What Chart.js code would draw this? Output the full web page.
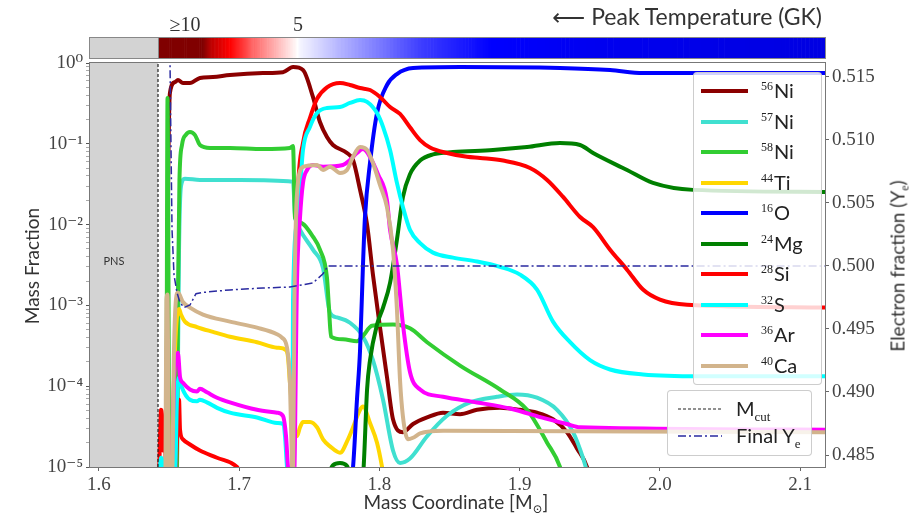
<!DOCTYPE html>
<html><head><meta charset="utf-8">
<script src="https://cdn.jsdelivr.net/npm/chart.js@4.4.0/dist/chart.umd.min.js"></script>
<style>
html,body{margin:0;padding:0;background:#fff;}
#wrap{position:relative;width:922px;height:517px;overflow:hidden;background:#fff;}
canvas{position:absolute;left:0;top:0;}
.tx{position:absolute;white-space:nowrap;line-height:1;color:#333;font-family:Lato,"DejaVu Sans",sans-serif;}
.serif{font-family:"Liberation Serif","DejaVu Serif",serif;}
.leg{position:absolute;box-sizing:border-box;background:rgba(255,255,255,0.82);border:1px solid rgba(200,200,200,0.9);border-radius:4px;}
.row{position:absolute;left:0;width:100%;height:0;}
.sw{position:absolute;height:4px;margin-top:-2px;}
.lab{position:absolute;font-family:Lato,"DejaVu Sans",sans-serif;font-size:20px;line-height:1;color:#222;margin-top:-11px;white-space:nowrap;}
.sup{font-family:"Liberation Serif","DejaVu Serif",serif;font-size:12px;position:relative;top:-8px;margin-right:1px;}
.sub{font-family:"Liberation Serif","DejaVu Serif",serif;font-size:13px;position:relative;top:5px;}
</style></head>
<body>
<div id="wrap">
<canvas id="c" width="922" height="517"></canvas>
<div class="tx" id="ttl" style="right:100px;top:5px;font-size:23px;">⟵ Peak Temperature (GK)</div>
<div class="tx" style="left:31px;top:266px;font-size:19px;transform:translate(-50%,-50%) rotate(-90deg);">Mass Fraction</div>
<div class="tx" style="left:897px;top:266px;font-size:19px;transform:translate(-50%,-50%) rotate(-90deg);">Electron fraction (Y<span class="sub" style="font-size:12px;top:4px">e</span>)</div>
<div class="tx" style="left:456px;top:501px;font-size:19px;transform:translate(-50%,-50%);">Mass Coordinate [M<span class="sub" style="font-size:12px;top:4px">⊙</span>]</div>
<div class="tx" style="left:114px;top:260px;font-size:11px;color:#333;transform:translate(-50%,-50%);">PNS</div>
<div class="leg" id="leg1" style="left:693px;top:72px;width:129px;height:313px;"></div>
<div class="leg" id="leg2" style="left:667px;top:390px;width:145px;height:66px;"></div>
</div>
<script>
// ---------- axes ----------
const xMin = 1.5936, xMax = 2.1178;
const yMin = 1e-5, yMax = 1;
const yeMin = 0.48405, yeMax = 0.5161;
const massCut = 1.6421;
const xTicks = [1.6, 1.7, 1.8, 1.9, 2.0, 2.1];
const yeTicks = [0.485, 0.490, 0.495, 0.500, 0.505, 0.510, 0.515];
const yDecades = [-5, -4, -3, -2, -1, 0];

// ---------- colour bar (peak temperature, GK) ----------
const cbarMass = [1.6421, 1.6742, 1.6800, 1.6934, 1.7100, 1.7398, 1.7434, 1.7700, 1.8300, 1.8800, 1.9500, 2.0500, 2.1178];
const cbarTemp = [10.5, 10.0, 8.8, 7.5, 6.5, 5.1, 4.9, 4.3, 3.1, 2.5, 2.3, 2.15, 2.1];
const cbarTickMass = [1.6613, 1.7419];
const cbarTickLabels = ['≥10', '5'];

// ---------- species mass fractions [mass, X] ----------
const ni56 = [[1.6478,7e-6],[1.6492,0.0202],[1.6506,0.425],[1.6542,0.58],[1.6563,0.616],[1.6599,0.565],[1.6649,0.565],[1.6720,0.652],[1.6813,0.67],[1.6934,0.711],[1.7170,0.752],[1.7312,0.77],[1.7384,0.89],[1.7455,0.819],[1.7526,0.38],[1.7576,0.186],[1.7626,0.121],[1.7669,0.0966],[1.7769,0.0769],[1.7812,0.063],[1.7862,0.0269],[1.7912,0.01],[1.7954,0.0024],[1.8004,0.00054],[1.8054,1.3e-4],[1.8097,3.9e-5],[1.8168,2.7e-5],[1.8240,3.4e-5],[1.8340,4.1e-5],[1.8454,4.7e-5],[1.8575,4.5e-5],[1.8696,5.1e-5],[1.8860,5.4e-5],[1.9003,5.1e-5],[1.9124,4.7e-5],[1.9238,3.9e-5],[1.9338,2.7e-5],[1.9409,1.7e-5],[1.9481,1e-5],[1.9502,7e-6]];
const ni57 = [[1.6556,7e-6],[1.6571,0.0049],[1.6585,0.030],[1.6613,0.037],[1.6720,0.0357],[1.7006,0.0357],[1.7384,0.034],[1.7398,0.0132],[1.7434,0.0086],[1.7526,0.0049],[1.7598,0.0029],[1.7648,8.1e-4],[1.7698,7.1e-4],[1.7790,6.1e-4],[1.7883,4.1e-4],[1.7954,2.1e-4],[1.8026,6.8e-5],[1.8097,1.6e-5],[1.8147,1.12e-5],[1.8218,1.27e-5],[1.8340,2.4e-5],[1.8482,4.3e-5],[1.8646,6.3e-5],[1.8839,7.4e-5],[1.8981,7.9e-5],[1.9124,7.2e-5],[1.9267,5.1e-5],[1.9381,2.7e-5],[1.9452,1.3e-5],[1.9488,8e-6]];
const ni58 = [[1.6481,7e-6],[1.6489,0.369],[1.6503,7e-6],[1.6556,7e-6],[1.6563,0.00118],[1.6574,0.0357],[1.6592,0.0966],[1.6621,0.13],[1.6649,0.14],[1.6685,0.128],[1.6720,0.0966],[1.6792,0.0887],[1.6934,0.0887],[1.7170,0.086],[1.7362,0.0887],[1.7384,0.094],[1.7398,0.0121],[1.7434,0.0106],[1.7526,0.0071],[1.7576,0.0049],[1.7626,0.0022],[1.7641,8.9e-4],[1.7655,4.1e-4],[1.7740,3.8e-4],[1.7840,3.6e-4],[1.7883,4.2e-4],[1.7947,5.6e-4],[1.8097,5.8e-4],[1.8218,5.2e-4],[1.8340,3.5e-4],[1.8575,1.8e-4],[1.8860,9.1e-5],[1.9053,5.1e-5],[1.9196,2.0e-5],[1.9288,1e-5],[1.9310,7e-6]];
const ti44 = [[1.6514,7e-6],[1.6528,5.1e-5],[1.6542,2.8e-4],[1.6556,7.1e-4],[1.6571,9e-4],[1.6585,7.7e-4],[1.6613,6.3e-4],[1.6699,5.4e-4],[1.6813,4.7e-4],[1.6934,4.1e-4],[1.7127,3.5e-4],[1.7270,3.0e-4],[1.7334,2.8e-4],[1.7348,2.3e-4],[1.7362,1.1e-4],[1.7384,4.2e-5],[1.7412,2.4e-5],[1.7434,3.1e-5],[1.7455,3.6e-5],[1.7505,3.6e-5],[1.7555,3.1e-5],[1.7598,2.2e-5],[1.7648,1.8e-5],[1.7719,1.5e-5],[1.7776,2.2e-5],[1.7812,3.1e-5],[1.7862,5.1e-5],[1.7883,5.6e-5],[1.7933,3.5e-5],[1.7983,2.0e-5],[1.8019,1e-5],[1.8033,7e-6]];
const o16 = [[1.7797,7e-6],[1.7812,1e-5],[1.7840,6.8e-5],[1.7862,2.8e-4],[1.7883,3.2e-3],[1.7897,0.0124],[1.7933,0.058],[1.7983,0.24],[1.8054,0.534],[1.8125,0.73],[1.8240,0.867],[1.8575,0.89],[1.9288,0.867],[1.9645,0.819],[1.9880,0.752],[2.0286,0.752],[2.1178,0.752]];
const mg24 = [[1.7591,5e-6],[1.7669,1.05e-5],[1.7719,1.12e-5],[1.7769,1.03e-5],[1.7819,5e-6],[1.7876,5e-6],[1.7890,1.2e-5],[1.7912,9.1e-5],[1.7933,2.1e-4],[1.7983,5.8e-4],[1.8026,9.4e-4],[1.8076,1.9e-3],[1.8125,6.5e-3],[1.8168,0.022],[1.8218,0.042],[1.8290,0.062],[1.8382,0.074],[1.8525,0.079],[1.8810,0.0837],[1.9053,0.091],[1.9288,0.102],[1.9431,0.0966],[1.9524,0.0769],[1.9766,0.0474],[1.9951,0.0328],[2.0237,0.0269],[2.1178,0.0254]];
const si28 = [[1.6428,7e-6],[1.6435,2.2e-5],[1.6442,5.1e-5],[1.6449,4.5e-5],[1.6456,1.6e-5],[1.6464,3.9e-5],[1.6471,2.2e-5],[1.6478,9e-6],[1.6485,5e-6],[1.6542,5e-6],[1.6556,2.2e-5],[1.6571,6.8e-5],[1.6578,2.9e-5],[1.6599,2.2e-5],[1.6649,1.9e-5],[1.6720,1.6e-5],[1.6842,1.3e-5],[1.6984,1e-5],[1.7041,7e-6],[1.7377,7e-6],[1.7398,0.00118],[1.7419,0.0269],[1.7455,0.102],[1.7505,0.21],[1.7555,0.36],[1.7626,0.5],[1.7719,0.565],[1.7790,0.534],[1.7862,0.49],[1.7933,0.463],[1.8004,0.38],[1.8076,0.285],[1.8147,0.234],[1.8218,0.16],[1.8290,0.111],[1.8361,0.09],[1.8482,0.077],[1.8625,0.069],[1.8718,0.0667],[1.8882,0.062],[1.9074,0.0502],[1.9196,0.0357],[1.9310,0.022],[1.9431,0.0124],[1.9524,0.0093],[1.9645,0.0049],[1.9766,0.00277],[1.9880,0.00157],[2.0001,0.00118],[2.0194,0.00102],[2.1178,0.00094]];
const s32 = [[1.6428,7e-6],[1.6442,1.3e-5],[1.6456,1.15e-5],[1.6471,7e-6],[1.6542,7e-6],[1.6556,6.8e-5],[1.6571,1.28e-4],[1.6592,9.6e-5],[1.6649,6.8e-5],[1.6699,6.5e-5],[1.6720,6.8e-5],[1.6770,6.3e-5],[1.6842,5.4e-5],[1.6934,4.7e-5],[1.7127,4.1e-5],[1.7270,3.5e-5],[1.7312,3.4e-5],[1.7327,2.4e-5],[1.7341,1e-5],[1.7355,7e-6],[1.7377,7e-6],[1.7384,0.00118],[1.7419,0.0124],[1.7455,0.0837],[1.7505,0.162],[1.7555,0.24],[1.7626,0.277],[1.7719,0.285],[1.7790,0.32],[1.7862,0.348],[1.7912,0.33],[1.7983,0.24],[1.8026,0.162],[1.8076,0.0837],[1.8125,0.0328],[1.8168,0.0164],[1.8218,0.0086],[1.8290,0.0059],[1.8382,0.0045],[1.8525,0.0039],[1.8696,0.0035],[1.8860,0.003],[1.9003,0.0024],[1.9124,0.00157],[1.9238,0.00063],[1.9360,0.00035],[1.9502,0.00021],[1.9645,0.000161],[1.9880,0.00014],[2.0286,0.000133],[2.1178,0.000133]];
const ar36 = [[1.6514,7e-6],[1.6521,1.2e-5],[1.6535,1.2e-4],[1.6549,2.1e-4],[1.6563,2.6e-4],[1.6578,1.3e-4],[1.6599,1.1e-4],[1.6649,9.1e-5],[1.6699,8.6e-5],[1.6720,9.3e-5],[1.6770,8.4e-5],[1.6842,7.2e-5],[1.6934,6.3e-5],[1.7127,5.1e-5],[1.7270,4.7e-5],[1.7312,4.3e-5],[1.7334,2.4e-5],[1.7348,1e-5],[1.7362,7e-6],[1.7391,7e-6],[1.7412,0.0019],[1.7434,0.0124],[1.7455,0.0328],[1.7484,0.0474],[1.7526,0.0547],[1.7598,0.052],[1.7740,0.0547],[1.7790,0.063],[1.7840,0.0769],[1.7883,0.086],[1.7933,0.0687],[1.7990,0.042],[1.8054,0.02],[1.8076,0.0086],[1.8125,0.0032],[1.8168,5.8e-4],[1.8218,1.5e-4],[1.8290,9.1e-5],[1.8454,7.4e-5],[1.8696,6.3e-5],[1.8931,5.3e-5],[1.9181,4e-5],[1.9338,3.4e-5],[1.9431,3.1e-5],[2.1178,2.9e-5]];
const ca40 = [[1.6474,7e-6],[1.6481,0.00118],[1.6489,0.00136],[1.6499,7e-6],[1.6521,7e-6],[1.6535,2.8e-4],[1.6549,1.18e-3],[1.6563,1.44e-3],[1.6599,1.1e-3],[1.6649,9.4e-4],[1.6742,7.7e-4],[1.6934,6.3e-4],[1.7127,5.3e-4],[1.7270,4.4e-4],[1.7305,4.0e-4],[1.7341,3.0e-4],[1.7362,1.1e-4],[1.7377,1e-5],[1.7384,7e-6],[1.7394,0.00118],[1.7405,0.0124],[1.7419,0.0328],[1.7455,0.0517],[1.7555,0.0547],[1.7598,0.0474],[1.7648,0.052],[1.7719,0.0436],[1.7769,0.0474],[1.7812,0.069],[1.7862,0.091],[1.7912,0.0837],[1.7954,0.0579],[1.8004,0.031],[1.8054,0.0164],[1.8097,0.0049],[1.8125,8.9e-4],[1.8147,1.2e-4],[1.8168,4.2e-5],[1.8204,2.2e-5],[1.8240,2.3e-5],[1.8290,2.6e-5],[1.8454,2.8e-5],[2.1178,2.7e-5]];

// ---------- final electron fraction [mass, Ye] ----------
const yeFinal = [[1.6506,0.5168],[1.6514,0.5092],[1.6521,0.5029],[1.6535,0.4993],[1.6556,0.4979],[1.6578,0.4971],[1.6606,0.4967],[1.6649,0.4969],[1.6692,0.4978],[1.6742,0.4979],[1.6934,0.4981],[1.7170,0.49825],[1.7362,0.49833],[1.7526,0.49865],[1.7598,0.49937],[1.7633,0.5000],[2.1178,0.5000]];

const speciesData = [ni56, ni57, ni58, ti44, o16, mg24, si28, s32, ar36, ca40];
const speciesA = ['56','57','58','44','16','24','28','32','36','40'];
const speciesSym = ['Ni','Ni','Ni','Ti','O','Mg','Si','S','Ar','Ca'];
const speciesColor = ['#8b0000','#40e0d0','#32cd32','#ffd700','#0000ff','#008000','#ff0000','#00ffff','#ff00ff','#d2b48c'];
const yeColor = '#2a2aa0';

// ---------- build datasets ----------
const toPts = arr => arr.map(p => ({x: p[0], y: p[1]}));
const datasets = [];
datasets.push({label:'PNS', data:[{x:xMin,y:yMax},{x:massCut,y:yMax}], yAxisID:'y', borderWidth:0, pointRadius:0, fill:'start', backgroundColor:'#d3d3d3', tension:0, order:1000, clip:0});
speciesData.forEach((arr, i) => {
  datasets.push({label: speciesA[i] + speciesSym[i], data: toPts(arr), yAxisID:'y', borderColor: speciesColor[i], borderWidth:4, pointRadius:0, fill:false, cubicInterpolationMode:'monotone', borderCapStyle:'round', borderJoinStyle:'round', order: 100 - i, clip:0});
});
datasets.push({label:'Mcut', data:[{x:massCut,y:yMin},{x:massCut,y:yMax}], yAxisID:'y', borderColor:'#222', borderWidth:1.2, borderDash:[3,2], pointRadius:0, tension:0, order:2, clip:0});
datasets.push({label:'Final Ye', data: toPts(yeFinal), yAxisID:'y2', borderColor: yeColor, borderWidth:1.5, borderDash:[8,3,2,3], pointRadius:0, tension:0, order:1, clip:0});

// ---------- helpers ----------
const supMap = {'0':'⁰','1':'¹','2':'²','3':'³','4':'⁴','5':'⁵','6':'⁶','7':'⁷','8':'⁸','9':'⁹','-':'⁻'};
function decadeLabel(e){ return '10' + String(e).split('').map(c => supMap[c]).join(''); }
function isMajor(v){ const e = Math.log10(v); return Math.abs(e - Math.round(e)) < 1e-6; }
function seismic(t){
  t = Math.max(0, Math.min(1, t));
  const st = [[0,[0,0,77]],[0.25,[0,0,255]],[0.5,[255,255,255]],[0.75,[255,0,0]],[1,[128,0,0]]];
  for (let i = 0; i < st.length - 1; i++) {
    const [a, ca] = st[i], [b, cb] = st[i+1];
    if (t <= b) { const f = (t - a) / (b - a); return 'rgb(' + ca.map((c, k) => Math.round(c + (cb[k] - c) * f)).join(',') + ')'; }
  }
  return 'rgb(128,0,0)';
}

const cbarPlugin = {
  id: 'cbar',
  afterDraw(chart) {
    const {ctx, scales:{x}} = chart;
    const top = 37, h = 22;
    const L = x.getPixelForValue(xMin), R = x.getPixelForValue(xMax), M = x.getPixelForValue(massCut);
    ctx.save();
    ctx.fillStyle = '#d3d3d3';
    ctx.fillRect(L, top, M - L, h);
    for (let i = 0; i < cbarMass.length - 1; i++) {
      const steps = 24;
      for (let k = 0; k < steps; k++) {
        const m0 = cbarMass[i] + (cbarMass[i+1] - cbarMass[i]) * k / steps;
        const m1 = cbarMass[i] + (cbarMass[i+1] - cbarMass[i]) * (k + 1) / steps;
        const T = cbarTemp[i] + (cbarTemp[i+1] - cbarTemp[i]) * (k + 0.5) / steps;
        ctx.fillStyle = seismic(T / 10);
        const p0 = x.getPixelForValue(m0), p1 = x.getPixelForValue(m1);
        ctx.fillRect(p0, top, p1 - p0 + 0.6, h);
      }
    }
    ctx.strokeStyle = '#888';
    ctx.lineWidth = 1;
    ctx.strokeRect(L - 0.5, top + 0.5, R - L + 1, h - 1);
    ctx.beginPath(); ctx.moveTo(M + 0.5, top); ctx.lineTo(M + 0.5, top + h); ctx.stroke();
    ctx.restore();
  }
};
const framePlugin = {
  id: 'frame',
  afterDatasetsDraw(chart) {
    const {ctx, chartArea:a} = chart;
    ctx.save();
    ctx.strokeStyle = '#777';
    ctx.lineWidth = 1;
    ctx.strokeRect(a.left - 0.5, a.top - 0.5, a.right - a.left + 1, a.bottom - a.top + 1);
    ctx.restore();
  }
};

Chart.defaults.font.family = '"Liberation Serif","DejaVu Serif",serif';
Chart.defaults.color = '#444';

const chart = new Chart(document.getElementById('c').getContext('2d'), {
  type: 'line',
  data: {datasets},
  options: {
    responsive: false, animation: false, events: [],
    layout: {padding: {top: 63, left: 0, right: 0, bottom: 0}},
    plugins: {legend: {display: false}, tooltip: {enabled: false}},
    scales: {
      x: {
        type: 'linear', min: xMin, max: xMax,
        afterBuildTicks: s => { s.ticks = xTicks.map(v => ({value: v})); },
        afterFit: s => { s.height = 50; },
        ticks: {callback: v => v.toFixed(1), font: {size: 19}, padding: 3, maxRotation: 0, autoSkip: false, color: '#444'},
        grid: {drawOnChartArea: false, tickLength: 4, tickColor: '#666'},
        border: {display: false}
      },
      y: {
        type: 'logarithmic', position: 'left', min: yMin, max: yMax,
        afterBuildTicks: s => {
          const t = [];
          yDecades.forEach(e => {
            for (let k = 1; k <= 9; k++) { if (e === 0 && k > 1) break; t.push({value: k * Math.pow(10, e), major: k === 1}); }
          });
          s.ticks = t;
        },
        afterFit: s => { s.width = 90; },
        ticks: {callback: v => isMajor(v) ? decadeLabel(Math.round(Math.log10(v))) : '', font: {size: 19}, padding: 3, autoSkip: false, color: '#444'},
        grid: {drawOnChartArea: false, tickLength: 4, tickColor: c => (c.tick && c.tick.major) ? '#555' : '#aaa'},
        border: {display: false}
      },
      y2: {
        type: 'linear', position: 'right', min: yeMin, max: yeMax,
        afterBuildTicks: s => { s.ticks = yeTicks.map(v => ({value: v})); },
        afterFit: s => { s.width = 97; },
        ticks: {callback: v => v.toFixed(3), font: {size: 19}, padding: 3, autoSkip: false, color: '#444'},
        grid: {drawOnChartArea: false, tickLength: 4, tickColor: '#666'},
        border: {display: false}
      }
    }
  },
  plugins: [cbarPlugin, framePlugin]
});

// ---------- colour bar tick labels ----------
const wrap = document.getElementById('wrap');
cbarTickMass.forEach((m, i) => {
  const d = document.createElement('div');
  d.className = 'tx serif';
  d.style.cssText = 'top:14px;font-size:20px;transform:translateX(-50%);left:' + chart.scales.x.getPixelForValue(m) + 'px;';
  d.textContent = cbarTickLabels[i];
  wrap.appendChild(d);
});

// ---------- legends ----------
const leg1 = document.getElementById('leg1');
speciesSym.forEach((s, i) => {
  const r = document.createElement('div');
  r.className = 'row';
  r.style.top = (18 + i * 30.5) + 'px';
  r.innerHTML = '<div class="sw" style="left:7px;width:47px;background:' + speciesColor[i] + '"></div>' +
                '<div class="lab" style="left:67px"><span class="sup">' + speciesA[i] + '</span>' + s + '</div>';
  leg1.appendChild(r);
});
const leg2 = document.getElementById('leg2');
leg2.innerHTML =
  '<div class="row" style="top:18px"><svg style="position:absolute;left:10px;top:-3px" width="44" height="6"><line x1="0" y1="3" x2="44" y2="3" stroke="#222" stroke-width="1.2" stroke-dasharray="3,2"/></svg>' +
  '<div class="lab" style="left:68px">M<span class="sub">cut</span></div></div>' +
  '<div class="row" style="top:45px"><svg style="position:absolute;left:10px;top:-3px" width="44" height="6"><line x1="0" y1="3" x2="44" y2="3" stroke="' + yeColor + '" stroke-width="1.5" stroke-dasharray="8,3,2,3"/></svg>' +
  '<div class="lab" style="left:68px">Final Y<span class="sub">e</span></div></div>';
</script>
</body></html>
